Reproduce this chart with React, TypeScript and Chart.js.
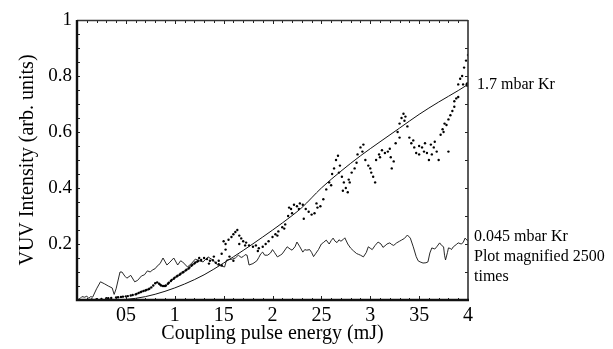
import React, { useEffect, useRef } from 'react';
import { Chart, registerables } from 'chart.js';

Chart.register(...registerables);

const FONT = '"Liberation Serif", "Times New Roman", serif';

// Axis tick labels (as printed in the figure)
const xTickLabels = ['', '05', '1', '15', '2', '25', '3', '35', '4'];
const yTickLabels = ['', '0.2', '0.4', '0.6', '0.8', '1'];

// Smooth fit curve (1.7 mbar Kr)
const fitX = [0, 0.3, 0.5, 0.7, 0.9, 1.1, 1.3, 1.5, 1.7, 1.9, 2.1, 2.3, 2.5, 2.7, 2.9, 3.1, 3.3, 3.5, 3.7, 3.9, 4.0];
const fitY = [0, 0.0, 0.002, 0.012, 0.031, 0.057, 0.09, 0.132, 0.177, 0.225, 0.275, 0.33, 0.4, 0.46, 0.515, 0.565, 0.614, 0.663, 0.707, 0.748, 0.77];

// Measured points (1.7 mbar Kr)
const dotX = [
  0.15, 0.2, 0.25, 0.3, 0.35, 0.4, 0.45, 0.5, 0.55, 0.6, 0.63, 0.66, 0.7, 0.73, 0.76, 0.8, 0.82, 0.85, 0.88, 0.91,
  0.94, 0.97, 1.0, 1.03, 1.06, 1.09, 1.12, 1.15, 1.18, 1.21, 1.24, 1.27, 1.3, 1.33, 1.36, 1.39, 1.42, 1.45, 1.48, 1.5,
  1.52, 1.55, 1.58, 1.6, 1.62, 1.64, 1.66, 1.68, 1.7, 1.73, 1.76, 1.8, 1.83, 1.86, 1.9, 1.93, 1.96, 2.0, 2.03, 2.06,
  2.1, 2.13, 2.16, 2.19, 2.22, 2.25, 2.28, 2.31, 2.34, 2.37, 2.4, 2.43, 2.46, 2.49, 2.52, 2.55, 2.58, 2.61, 2.63, 2.65,
  2.67, 2.69, 2.71, 2.73, 2.75, 2.77, 2.79, 2.81, 2.84, 2.87, 2.9, 2.92, 2.95, 2.98, 3.01, 3.03, 3.06, 3.09, 3.12, 3.15,
  3.18, 3.21, 3.24, 3.26, 3.28, 3.3, 3.32, 3.34, 3.36, 3.38, 3.4, 3.42, 3.45, 3.47, 3.5, 3.53, 3.56, 3.58, 3.6, 3.62,
  3.65, 3.68, 3.7, 3.72, 3.74, 3.76, 3.78, 3.8, 3.82, 3.84, 3.86, 3.88, 3.9, 3.92, 3.94, 3.96, 3.98, 4.0,
  2.2, 2.32, 2.45, 2.6, 2.68, 2.72, 2.78, 2.86, 2.93, 3.0, 3.05, 3.1, 3.2, 3.22, 3.3, 3.35, 3.44, 3.5, 3.55, 3.63,
  3.66, 3.75, 3.8, 3.86, 3.9, 3.95,
  1.52, 1.56, 1.6, 1.66, 1.72, 1.85, 2.05, 2.12, 2.17, 2.27, 1.25, 1.35, 1.4, 1.45, 1.48,
  0.32, 0.42, 0.47, 0.52, 0.57, 0.61, 0.65, 0.68, 0.71, 0.74, 0.78, 0.84, 0.86, 0.9, 0.93, 0.96, 0.99, 1.02, 1.05, 1.08,
  1.11, 1.14, 1.17, 1.2, 1.23
];
const dotY = [
  0.002, 0.003, 0.004, 0.006, 0.007, 0.009, 0.011, 0.013, 0.016, 0.02, 0.025, 0.03, 0.034, 0.038, 0.045, 0.06, 0.063, 0.055, 0.05, 0.052,
  0.062, 0.072, 0.08, 0.087, 0.094, 0.1, 0.108, 0.116, 0.126, 0.134, 0.14, 0.143, 0.15, 0.146, 0.14, 0.142, 0.133, 0.128, 0.124, 0.21,
  0.2, 0.215, 0.225, 0.235, 0.243, 0.25, 0.23, 0.22, 0.21, 0.205, 0.195, 0.19, 0.195, 0.185, 0.19, 0.2, 0.21, 0.225, 0.235, 0.245,
  0.26, 0.27, 0.3, 0.325, 0.34, 0.335, 0.345, 0.34, 0.325, 0.315, 0.305, 0.31, 0.33, 0.335, 0.36, 0.395, 0.42, 0.45, 0.47, 0.5,
  0.515, 0.48, 0.44, 0.42, 0.4, 0.385, 0.42, 0.455, 0.47, 0.52, 0.545, 0.53, 0.5, 0.48, 0.455, 0.44, 0.5, 0.52, 0.535, 0.525,
  0.53, 0.51, 0.495, 0.56, 0.6, 0.63, 0.65, 0.665, 0.655, 0.62, 0.58, 0.56, 0.545, 0.525, 0.55, 0.545, 0.56, 0.525, 0.5, 0.555,
  0.545, 0.53, 0.5, 0.59, 0.61, 0.63, 0.625, 0.645, 0.66, 0.675, 0.71, 0.72, 0.77, 0.79, 0.8, 0.83, 0.855, 0.875,
  0.31, 0.29, 0.345, 0.41, 0.455, 0.39, 0.43, 0.49, 0.555, 0.47, 0.42, 0.51, 0.54, 0.47, 0.58, 0.64, 0.57, 0.52, 0.53, 0.52,
  0.565, 0.6, 0.53, 0.69, 0.725, 0.77,
  0.18, 0.155, 0.14, 0.2, 0.195, 0.175, 0.23, 0.255, 0.33, 0.325, 0.15, 0.13, 0.155, 0.14, 0.165,
  0.006, 0.01, 0.012, 0.014, 0.018, 0.022, 0.028, 0.032, 0.036, 0.04, 0.052, 0.058, 0.052, 0.05, 0.058, 0.068, 0.076, 0.084, 0.09, 0.098,
  0.105, 0.112, 0.122, 0.13, 0.137
];

// 0.045 mbar Kr trace (magnified 2500 times)
const lowX = [
  0, 0.03, 0.05, 0.08, 0.1, 0.12, 0.14, 0.16, 0.2, 0.24, 0.28, 0.32, 0.36, 0.38, 0.4, 0.44, 0.46, 0.49, 0.51, 0.55,
  0.59, 0.62, 0.66, 0.69, 0.72, 0.75, 0.77, 0.8, 0.82, 0.85, 0.88, 0.92, 0.95, 0.99, 1.03, 1.06, 1.08, 1.13, 1.17, 1.21,
  1.25, 1.29, 1.34, 1.38, 1.44, 1.51, 1.53, 1.59, 1.62, 1.65, 1.68, 1.7, 1.72, 1.74, 1.76, 1.8, 1.84, 1.86, 1.88, 1.9,
  1.92, 1.95, 1.98, 2.0, 2.02, 2.05, 2.08, 2.1, 2.12, 2.15, 2.18, 2.2, 2.23, 2.25, 2.28, 2.31, 2.33, 2.35, 2.38, 2.4,
  2.42, 2.44, 2.47, 2.5, 2.52, 2.55, 2.58, 2.6, 2.62, 2.64, 2.66, 2.68, 2.7, 2.72, 2.74, 2.77, 2.8, 2.83, 2.86, 2.88,
  2.9, 2.93, 2.96, 2.98, 3.0, 3.02, 3.05, 3.08, 3.11, 3.13, 3.15, 3.17, 3.2, 3.22, 3.24, 3.27, 3.3, 3.32, 3.35, 3.38,
  3.41, 3.44, 3.47, 3.49, 3.51, 3.54, 3.57, 3.59, 3.61, 3.63, 3.66, 3.68, 3.71, 3.73, 3.75, 3.76, 3.77, 3.79, 3.8, 3.82,
  3.83, 3.85, 3.88, 3.9, 3.93, 3.95, 3.97, 4.0
];
const lowY = [
  0, 0.005, 0.012, 0.01, 0.014, 0.006, 0.012, 0.01, 0.04, 0.065, 0.058, 0.05, 0.043, 0.02, 0.04, 0.1, 0.1, 0.085, 0.078, 0.088,
  0.065, 0.07, 0.086, 0.09, 0.104, 0.1, 0.107, 0.112, 0.121, 0.13, 0.15, 0.125, 0.135, 0.15, 0.125, 0.14, 0.136, 0.118, 0.13, 0.146,
  0.14, 0.136, 0.154, 0.145, 0.125, 0.118, 0.143, 0.146, 0.15, 0.16, 0.152, 0.155, 0.162, 0.16, 0.125, 0.13, 0.14, 0.152, 0.165, 0.171,
  0.16, 0.16, 0.168, 0.18, 0.17, 0.154, 0.16, 0.165, 0.175, 0.19, 0.182, 0.178, 0.19, 0.207, 0.19, 0.171, 0.18, 0.178, 0.18, 0.17,
  0.155, 0.165, 0.18, 0.2, 0.205, 0.214, 0.2, 0.212, 0.221, 0.21, 0.205, 0.215, 0.21, 0.215, 0.222, 0.2, 0.185, 0.175, 0.166, 0.163,
  0.16, 0.154, 0.17, 0.19, 0.185, 0.18, 0.195, 0.207, 0.2, 0.188, 0.193, 0.2, 0.204, 0.198, 0.195, 0.204, 0.21, 0.214, 0.22, 0.232,
  0.221, 0.19, 0.155, 0.14, 0.136, 0.132, 0.133, 0.136, 0.168, 0.186, 0.182, 0.19, 0.204, 0.195, 0.19, 0.16, 0.143, 0.17, 0.186, 0.184,
  0.18, 0.19, 0.198, 0.204, 0.2, 0.205, 0.221, 0.21
];

// End-of-curve marker
const markerX = [4];
const markerY = [0.77];

const annotations = [
  { text: '1.7 mbar Kr', x: 4, y: 0.77, dx: 9, dy: 0 },
  { text: '0.045 mbar Kr', x: 4, y: 0.225, dx: 6, dy: 0 },
  { text: 'Plot magnified 2500', x: 4, y: 0.225, dx: 6, dy: 20 },
  { text: 'times', x: 4, y: 0.225, dx: 6, dy: 40 },
];

const zip = (xs: number[], ys: number[]) => xs.map((x, i) => ({ x, y: ys[i] }));

const framePlugin = {
  id: 'frame',
  afterDraw(chart: any) {
    const { ctx, chartArea, scales } = chart;
    const { left, right, top, bottom } = chartArea;
    const xs = scales.x;
    const ys = scales.y;
    ctx.save();
    ctx.strokeStyle = '#222';
    ctx.lineWidth = 1;
    ctx.beginPath();
    for (let i = 1; i < 40; i++) {
      const px = Math.round(xs.getPixelForValue(i / 10)) + 0.5;
      const major = i % 5 === 0;
      ctx.moveTo(px, top);
      ctx.lineTo(px, top + (major ? 4 : 3));
      ctx.moveTo(px, bottom);
      ctx.lineTo(px, bottom - (major ? 4 : 2));
    }
    for (let i = 1; i < 20; i++) {
      const py = Math.round(ys.getPixelForValue(i / 20)) + 0.5;
      ctx.moveTo(left, py);
      ctx.lineTo(left + 3, py);
      if (i % 2 === 0) {
        ctx.moveTo(right, py);
        ctx.lineTo(right - 3, py);
      }
    }
    ctx.stroke();
    ctx.lineWidth = 1.6;
    ctx.strokeStyle = '#333';
    ctx.beginPath();
    ctx.moveTo(left, top + 0.5);
    ctx.lineTo(right, top + 0.5);
    ctx.moveTo(right, top);
    ctx.lineTo(right, bottom);
    ctx.stroke();
    ctx.lineWidth = 2.4;
    ctx.strokeStyle = '#111';
    ctx.beginPath();
    ctx.moveTo(left, top);
    ctx.lineTo(left, bottom);
    ctx.lineTo(right + 1, bottom);
    ctx.stroke();
    ctx.fillStyle = '#000';
    ctx.font = '16px ' + FONT;
    ctx.textAlign = 'left';
    ctx.textBaseline = 'middle';
    for (const a of annotations) {
      const px = xs.getPixelForValue(a.x) + a.dx;
      const py = ys.getPixelForValue(a.y) + a.dy;
      ctx.fillText(a.text, px, py);
    }
    ctx.restore();
  },
};

export default function App() {
  const ref = useRef<HTMLCanvasElement>(null);
  useEffect(() => {
    const chart = new Chart(ref.current as HTMLCanvasElement, {
      type: 'scatter',
      data: {
        datasets: [
          {
            label: 'low',
            data: zip(lowX, lowY),
            showLine: true,
            borderColor: '#111',
            borderWidth: 0.9,
            pointRadius: 0,
            tension: 0,
          },
          {
            label: 'fit',
            data: zip(fitX, fitY),
            showLine: true,
            borderColor: '#111',
            borderWidth: 1,
            pointRadius: 0,
            tension: 0.4,
            cubicInterpolationMode: 'monotone',
          },
          {
            label: 'dots',
            data: zip(dotX, dotY),
            showLine: false,
            backgroundColor: '#000',
            borderColor: '#000',
            borderWidth: 0,
            pointRadius: 1.2,
          },
          {
            label: 'marker',
            data: zip(markerX, markerY),
            showLine: false,
            backgroundColor: '#000',
            borderWidth: 0,
            pointRadius: 2.5,
          },
        ],
      } as any,
      options: {
        responsive: false,
        animation: false,
        devicePixelRatio: 1,
        layout: { padding: { left: 0, right: 145, top: 20, bottom: 0 } },
        plugins: { legend: { display: false }, tooltip: { enabled: false } },
        scales: {
          x: {
            type: 'linear',
            min: 0,
            max: 4,
            grid: { display: false, drawTicks: false },
            border: { display: false },
            afterFit: (s: any) => { s.height = 49; },
            ticks: {
              stepSize: 0.5,
              padding: 4,
              color: '#000',
              font: { family: FONT, size: 20 },
              maxRotation: 0,
              autoSkip: false,
              callback: (v: any) => xTickLabels[Math.round(Number(v) * 2)] ?? '',
            },
            title: {
              display: true,
              text: 'Coupling pulse energy (mJ)',
              color: '#000',
              font: { family: FONT, size: 20 },
              padding: { top: 0, bottom: 3 },
            },
          },
          y: {
            type: 'linear',
            min: 0,
            max: 1,
            grid: { display: false, drawTicks: false },
            border: { display: false },
            afterFit: (s: any) => { s.width = 77; },
            ticks: {
              stepSize: 0.2,
              padding: 5,
              color: '#000',
              font: { family: FONT, size: 19 },
              autoSkip: false,
              callback: (v: any) => yTickLabels[Math.round(Number(v) * 5)] ?? '',
            },
            title: {
              display: true,
              text: 'VUV Intensity (arb. units)',
              color: '#000',
              font: { family: FONT, size: 20 },
              padding: { top: 16, bottom: 0 },
            },
          },
        },
      } as any,
      plugins: [framePlugin],
    });
    return () => chart.destroy();
  }, []);
  return (
    <div style={{ position: 'absolute', left: 0, top: 0, width: 613, height: 349, background: '#fff' }}>
      <canvas ref={ref} width={613} height={349} style={{ display: 'block' }} />
    </div>
  );
}
